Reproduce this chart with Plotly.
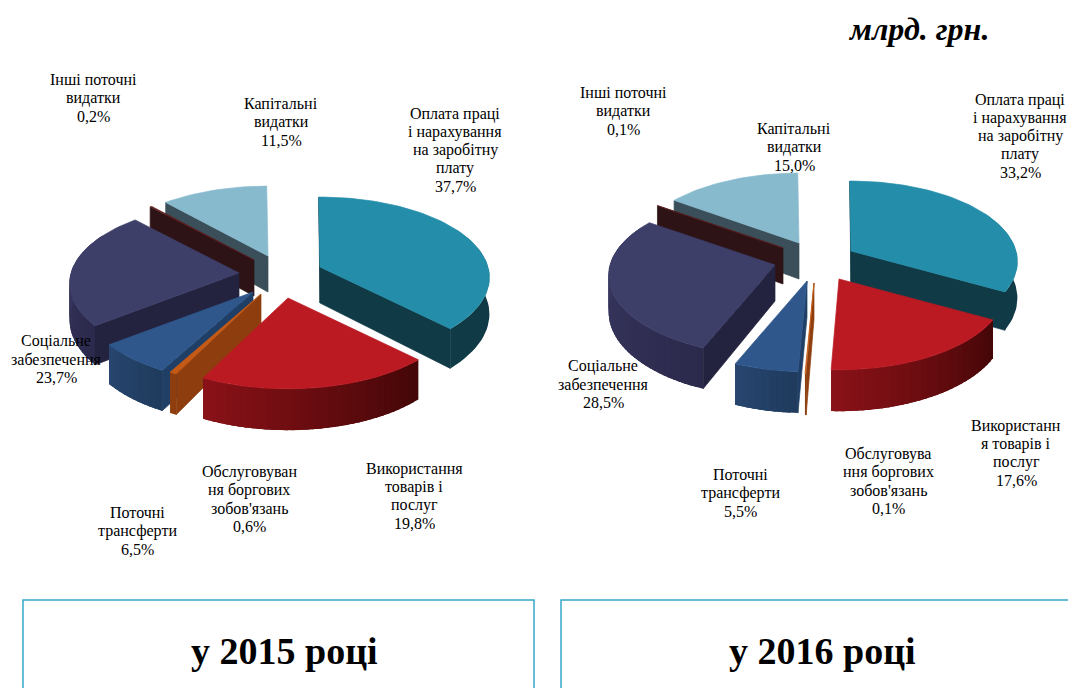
import math
import plotly.graph_objects as go

# ---------- data ----------
labels_2015 = ["Оплата праці<br>і нарахування<br>на заробітну<br>плату", "Використання<br>товарів і<br>послуг",
               "Обслуговуван<br>ня боргових<br>зобов'язань", "Поточні<br>трансферти",
               "Соціальне<br>забезпечення", "Інші поточні<br>видатки", "Капітальні<br>видатки"]
labels_2016 = ["Оплата праці<br>і нарахування<br>на заробітну<br>плату", "Використанн<br>я товарів і<br>послуг",
               "Обслуговува<br>ння боргових<br>зобов'язань", "Поточні<br>трансферти",
               "Соціальне<br>забезпечення", "Інші поточні<br>видатки", "Капітальні<br>видатки"]
values_2015 = [37.7, 19.8, 0.6, 6.5, 23.7, 0.2, 11.5]
values_2016 = [33.2, 17.6, 0.1, 5.5, 28.5, 0.1, 15.0]
titles = ["у 2015 році", "у 2016 році"]
unit = "млрд. грн."

# ---------- style / layout ----------
Q, B, DEPTH = 0.13, 79, 36
top_col = ["#248eaa", "#bc1a22", "#c55a16", "#2f578c", "#3e3f69", "#5c1e1e", "#88bace"]
side_col = ["#103a46", "#430607", "#8e3e0e", "#1f3f66", "#23233f", "#2d1216", "#3a4f5a"]
wall_r = ["#103a46", "#430607", "#8e3e0e", "#1f3a5c", "#2b2a4c", "#2d1216", "#3a4f5a"]
wall_l = ["#103a46", "#8a1218", "#8e3e0e", "#27466f", "#3e3c66", "#2d1216", "#3a4f5a"]
apex_2015 = [(320, 267), (288, 298), (261, 294), (253, 292), (239, 273), (254, 260), (268, 256)]
apex_2016 = [(851, 251), (839, 279), (814, 283), (807, 281), (775, 265), (783, 248), (799, 243)]
draw_order = [0, 6, 5, 4, 3, 2, 1]
lab_2015 = [(455, 150), (414, 496), (249, 499), (137, 531), (56, 359), (93, 98), (281, 122)]
lab_2016 = [(1020, 136), (1016, 453), (888, 481), (740, 493), (603, 384), (623, 111), (794, 147)]
FONT = "Liberation Serif"
PITCH = 18.2


def rim(theta, a):
    t = math.radians(theta)
    s = 1 / (1 + Q * math.cos(t))
    return a * math.sin(t) * s, -B * math.cos(t) * s, s


def mix(c0, c1, f):
    p0 = [int(c0[i:i + 2], 16) for i in (1, 3, 5)]
    p1 = [int(c1[i:i + 2], 16) for i in (1, 3, 5)]
    return "#%02x%02x%02x" % tuple(round(a + (b - a) * f) for a, b in zip(p0, p1))


def poly(pts, color, lw=0.7):
    xs = [p[0] for p in pts] + [pts[0][0]]
    ys = [p[1] for p in pts] + [pts[0][1]]
    return go.Scatter(x=xs, y=ys, mode="lines", fill="toself", fillcolor=color,
                      line=dict(color=color, width=lw), hoverinfo="skip", showlegend=False)


def pie_traces(values, apexes, a):
    total = sum(values)
    starts, acc = [], 0.0
    for v in values:
        starts.append(acc)
        acc += v / total * 360
    out = []
    for i in draw_order:
        t0 = starts[i] - 0.5
        t1 = t0 + values[i] / total * 360
        cx, cy = apexes[i]

        def P(th, low=False):
            x, y, s = rim(th, a)
            return (cx + x, cy + y + (DEPTH * s if low else 0))

        if math.sin(math.radians(t0)) < 0:
            out.append(poly([(cx, cy), P(t0), P(t0, True), (cx, cy + DEPTH)], side_col[i]))
        if math.sin(math.radians(t1)) > 0:
            out.append(poly([(cx, cy), P(t1), P(t1, True), (cx, cy + DEPTH)], side_col[i]))
        lo, hi = max(t0, 60), min(t1, 300)
        if hi > lo:
            flat = wall_r[i] == wall_l[i]
            n = 1 if flat else max(1, int((hi - lo) / 2))
            sub = 30 if flat else 1
            step = (hi - lo) / n
            for k in range(n):
                a0 = lo + step * k
                a1 = hi if flat else min(hi, a0 + step * 2.5)
                col = mix(wall_r[i], wall_l[i], (k + 0.5) / n)
                ths = [a0 + (a1 - a0) * j / sub for j in range(sub + 1)]
                out.append(poly([P(t) for t in ths] + [P(t, True) for t in reversed(ths)], col, 0))
        n = max(2, int((t1 - t0) / 2))
        arc = [P(t0 + (t1 - t0) * k / n) for k in range(n + 1)]
        out.append(poly([(cx, cy)] + arc, top_col[i]))
    return out


fig = go.Figure()
for tr in pie_traces(values_2015, apex_2015, 168) + pie_traces(values_2016, apex_2016, 165):
    fig.add_trace(tr)

ann = []
for labels, values, pos in ((labels_2015, values_2015, lab_2015), (labels_2016, values_2016, lab_2016)):
    for lb, v, (x, y) in zip(labels, values, pos):
        lines = lb.split("<br>") + [f"{v:.1f}%".replace(".", ",")]
        for j, line in enumerate(lines):
            ann.append(dict(x=x, y=y + (j - (len(lines) - 1) / 2) * PITCH, xref="x", yref="y",
                            showarrow=False, text=line,
                            font=dict(family=FONT, size=16, color="#000000")))
for txt, x in zip(titles, (284, 822)):
    ann.append(dict(x=x, y=651, xref="x", yref="y", showarrow=False,
                    text=f"<b>{txt}</b>", font=dict(family=FONT, size=38, color="#000000")))
ann.append(dict(x=918, y=29, xref="x", yref="y", showarrow=False,
                text=f"<b><i>{unit}</i></b>", font=dict(family=FONT, size=32, color="#000000")))

shapes = [dict(type="rect", xref="x", yref="y", x0=x0, x1=x1, y0=600, y1=710,
               line=dict(color="#35a8c8", width=1.5))
          for x0, x1 in ((23, 534), (561, 1090))]

fig.update_layout(
    width=1068, height=688, margin=dict(l=0, r=0, t=0, b=0),
    paper_bgcolor="white", plot_bgcolor="white", showlegend=False,
    xaxis=dict(range=[0, 1068], visible=False, fixedrange=True),
    yaxis=dict(range=[688, 0], visible=False, fixedrange=True),
    annotations=ann, shapes=shapes,
)
fig.write_html("out.html", config={"displayModeBar": False},
               post_script="document.body.style.margin='0';document.body.style.overflow='hidden';")
